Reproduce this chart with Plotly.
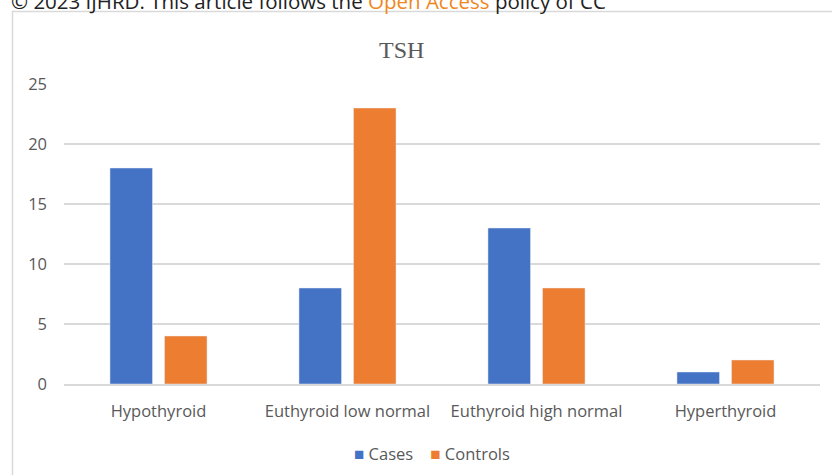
import plotly.graph_objects as go

# TSH distribution by thyroid status
categories = ["Hypothyroid", "Euthyroid low normal", "Euthyroid high normal", "Hyperthyroid"]
cases = [18, 8, 13, 1]
controls = [4, 23, 8, 2]
y_ticks = [0, 5, 10, 15, 20, 25]
series_names = ["Cases", "Controls"]
series_colors = ["#4472C4", "#ED7D31"]

W, H = 832, 475
GRAY = "#595959"
GRID = "#D9D9D9"
FONT = "Open Sans"

fig = go.Figure()
for name, vals, col in zip(series_names, [cases, controls], series_colors):
    fig.add_trace(go.Bar(name=name, x=categories, y=vals, marker_color=col))

x0, x1 = 64, 820
y_top, y_bot = 84, 384

fig.update_layout(
    width=W, height=H,
    margin=dict(l=0, r=0, t=0, b=0, autoexpand=False),
    paper_bgcolor="white", plot_bgcolor="white",
    barmode="group", bargap=0.423, bargroupgap=0.22,
    font=dict(family=FONT, color=GRAY, size=16),
    xaxis=dict(
        domain=[x0 / W, x1 / W], automargin=False,
        showline=True, linecolor=GRID, linewidth=1.5,
        ticks="", tickfont=dict(size=16.5, color=GRAY),
        ticklabelstandoff=11,
    ),
    yaxis=dict(
        domain=[1 - y_bot / H, 1 - y_top / H], automargin=False,
        range=[0, 25], tickvals=y_ticks,
        showgrid=True, gridcolor=GRID, gridwidth=1.5,
        zeroline=False, showline=False, ticks="",
        tickfont=dict(size=16.5, color=GRAY),
        ticklabelstandoff=16,
    ),
    showlegend=False,
)

# legend row below the axis
legend_html = "&nbsp;&nbsp;&nbsp;&nbsp;".join(
    f"<span style='color:{c}; font-size:17px'>■</span>&nbsp;{n}"
    for n, c in zip(series_names, series_colors)
)
fig.add_annotation(
    text=legend_html, xref="paper", yref="paper",
    x=432 / W, y=1 - 453 / H, xanchor="center", yanchor="middle",
    showarrow=False, font=dict(family=FONT, size=16.5, color=GRAY),
)

# chart title
fig.add_annotation(
    text="TSH", xref="paper", yref="paper",
    x=401 / W, y=1 - 50 / H, xanchor="center", yanchor="middle",
    showarrow=False, font=dict(family="Liberation Serif", size=24, color=GRAY),
)

# chart frame
fig.add_shape(
    type="rect", xref="paper", yref="paper",
    x0=12.5 / W, x1=1.05, y0=-0.05, y1=1 - 11.5 / H,
    line=dict(color=GRID, width=1.5), fillcolor="rgba(0,0,0,0)", layer="below",
)

# copyright line along the top edge
fig.add_annotation(
    text="© 2023 IJHRD. This article follows the <span style='color:#F0861E'>Open Access</span> policy of CC",
    xref="paper", yref="paper", x=9 / W, y=1 - 1 / H,
    xanchor="left", yanchor="middle", showarrow=False,
    font=dict(family=FONT, size=20.5, color="#222222"),
)

fig.write_html("out.html")
